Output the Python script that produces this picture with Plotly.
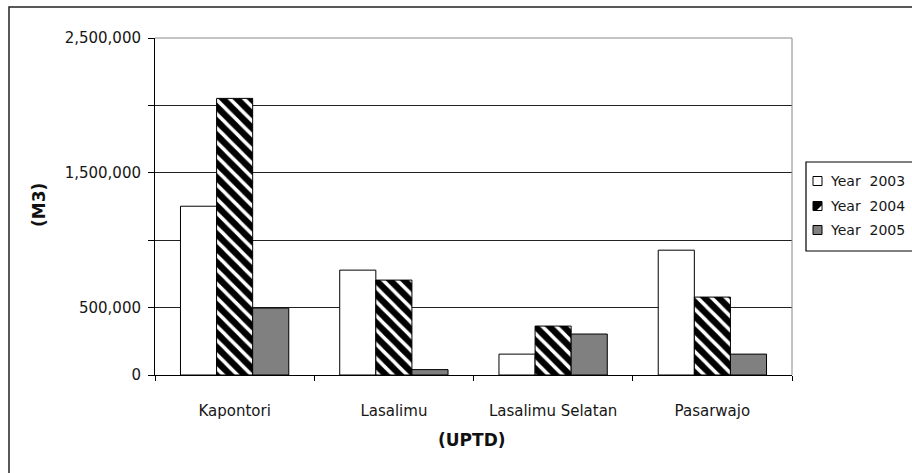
import plotly.graph_objects as go

categories = ["Kapontori", "Lasalimu", "Lasalimu Selatan", "Pasarwajo"]
years = ["Year\u00a0\u00a02003", "Year\u00a0\u00a02004", "Year\u00a0\u00a02005"]
v2003 = [1252000, 778000, 155000, 926000]
v2004 = [2052000, 704000, 363000, 578000]
v2005 = [496000, 40000, 304000, 155000]
y_ticks = [0, 500000, 1000000, 1500000, 2000000, 2500000]
y_labels = ["0", "500,000", "", "1,500,000", "", "2,500,000"]

W, H = 912, 473
L, R, T, B = 155, 120, 38, 98
pw, ph = W - L - R, H - T - B

def px(x):
    return (x - L) / pw

def py(y):
    return (H - B - y) / ph

FONT = "DejaVu Sans, Arial, sans-serif"
TXT = "#161616"

fig = go.Figure()
fig.add_bar(x=categories, y=v2003, name=years[0],
            marker=dict(color="white", line=dict(color="black", width=1)))
fig.add_bar(x=categories, y=v2004, name=years[1],
            marker=dict(color="black", line=dict(color="black", width=1),
                        pattern=dict(shape="\\", fgcolor="white", bgcolor="black",
                                     fgopacity=1, size=10, solidity=0.35,
                                     fillmode="overlay")))
fig.add_bar(x=categories, y=v2005, name=years[2],
            marker=dict(color="#808080", line=dict(color="black", width=1)))

shapes = [
    dict(type="line", xref="paper", yref="paper", x0=0, x1=1, y0=1, y1=1,
         line=dict(color="#888", width=1)),
    dict(type="line", xref="paper", yref="paper", x0=1, x1=1, y0=0, y1=1,
         line=dict(color="#888", width=1)),
    dict(type="rect", xref="paper", yref="paper", x0=px(9), x1=px(W + 5),
         y0=py(H + 5), y1=py(7), line=dict(color="#222", width=1.5)),
    # legend box
    dict(type="rect", xref="paper", yref="paper", x0=px(806), x1=px(W + 5),
         y0=py(251), y1=py(162), line=dict(color="black", width=1.2),
         fillcolor="white"),
]
annotations = [
    dict(text="<b>(M3)</b>", xref="paper", yref="paper", x=px(39), y=py(205),
         xanchor="center", yanchor="middle",
         showarrow=False, textangle=-90, font=dict(size=17, color="#111")),
    dict(text="<b>(UPTD)</b>", xref="paper", yref="paper", x=px(472), y=py(440),
         xanchor="center", yanchor="middle",
         showarrow=False, font=dict(size=17, color="#111")),
]

# legend entries (symbol + label)
item_y = [181, 206, 230]
fills = ["white", "black", "#808080"]
for i, (name, yc) in enumerate(zip(years, item_y)):
    shapes.append(dict(type="rect", xref="paper", yref="paper",
                       x0=px(813), x1=px(822), y0=py(yc + 4.5), y1=py(yc - 4.5),
                       line=dict(color="black", width=1), fillcolor=fills[i]))
    if i == 1:
        x0, x1, y0, y1 = px(817), px(821.5), py(yc + 4), py(yc - 0.5)
        shapes.append(dict(type="path", xref="paper", yref="paper",
                           path=f"M {x1} {y1} L {x1} {y0} L {x0} {y0} Z",
                           line=dict(color="white", width=0), fillcolor="white"))
    annotations.append(dict(text=name, xref="paper", yref="paper",
                            x=px(828), y=py(yc), xanchor="left", yanchor="middle",
                            showarrow=False,
                            font=dict(family=FONT, size=14, color=TXT)))

fig.update_layout(
    width=W, height=H,
    margin=dict(l=L, r=R, t=T, b=B, autoexpand=False),
    paper_bgcolor="white", plot_bgcolor="white",
    barmode="group", bargap=0.32, bargroupgap=0,
    font=dict(family=FONT, size=15, color=TXT),
    showlegend=False,
    xaxis=dict(showline=True, linecolor="black", linewidth=1,
               ticks="outside", ticklen=5, tickcolor="black",
               tickson="boundaries", showgrid=False,
               tickfont=dict(size=15, color=TXT), ticklabelstandoff=22),
    yaxis=dict(range=[0, 2500000], showline=True, linecolor="black", linewidth=1,
               tickvals=y_ticks, ticktext=y_labels, ticks="outside", ticklen=6,
               tickcolor="black", showgrid=True, gridcolor="#222", gridwidth=1,
               zeroline=False, tickfont=dict(size=15, color=TXT),
               ticklabelstandoff=4),
    shapes=shapes,
    annotations=annotations,
)

fig.write_html("out.html", config={"displayModeBar": False},
               post_script="document.body.style.margin='0';")
